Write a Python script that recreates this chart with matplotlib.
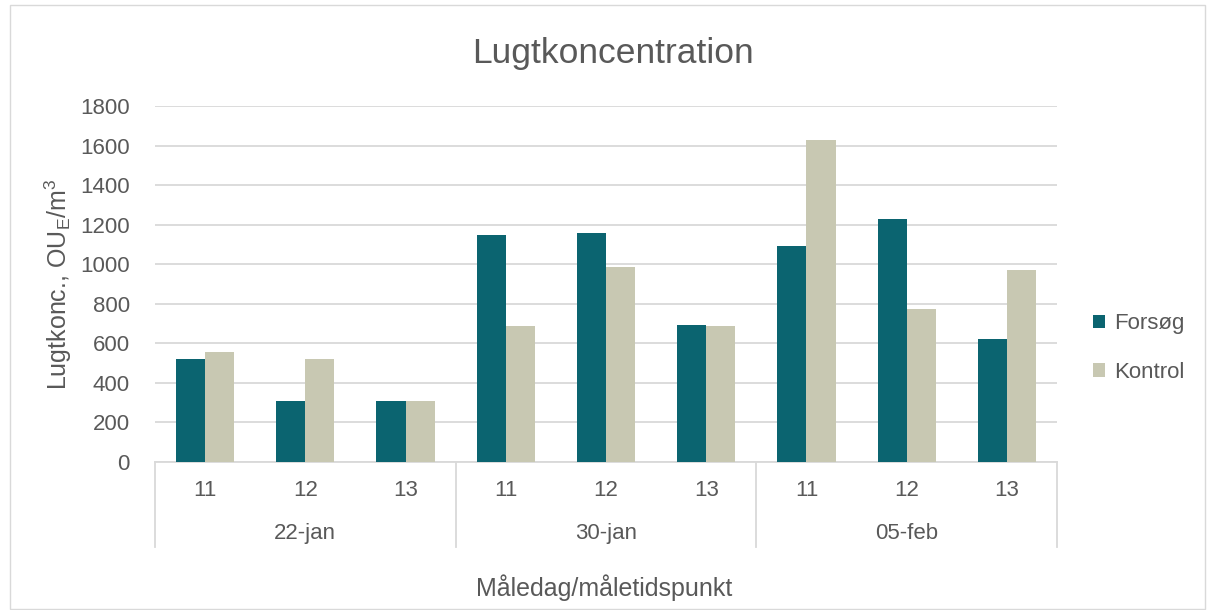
import matplotlib.pyplot as plt
import numpy as np

plt.rcParams['font.family'] = ['Liberation Sans', 'DejaVu Sans']

hours = ['11', '12', '13', '11', '12', '13', '11', '12', '13']
days = ['22-jan', '30-jan', '05-feb']
forsoeg = [520, 310, 310, 1150, 1160, 695, 1090, 1230, 620]
kontrol = [555, 520, 310, 690, 985, 690, 1630, 775, 970]

c_f = '#0b6470'
c_k = '#c8c8b2'
txt = '#595959'
W, H = 1212, 610

fig = plt.figure(figsize=(12.12, 6.10), dpi=100)
ax = fig.add_axes([155 / W, 1 - 462 / H, (1057 - 155) / W, (462 - 106) / H])

x = np.arange(len(hours))
w = 0.29
ax.bar(x - w / 2, forsoeg, w, color=c_f, label='Forsøg', zorder=3)
ax.bar(x + w / 2, kontrol, w, color=c_k, label='Kontrol', zorder=3)

ax.set_xlim(-0.5, len(hours) - 0.5)
ax.set_ylim(0, 1800)
ax.set_yticks(range(0, 1801, 200))
ax.yaxis.grid(True, color='#d9d9d9', linewidth=1.3, zorder=0)
ax.tick_params(axis='y', length=0, labelsize=16, labelcolor=txt, pad=18)
ax.set_xticks([])
for s in ['top', 'right', 'left']:
    ax.spines[s].set_visible(False)
ax.spines['bottom'].set_color('#d9d9d9')
ax.spines['bottom'].set_linewidth(1.3)

# hour labels and grouped day labels
for i, h in enumerate(hours):
    ax.text(i, -0.08, h, transform=ax.get_xaxis_transform(), ha='center', va='center',
            fontsize=16, color=txt)
for j, d in enumerate(days):
    ax.text(3 * j + 1, -0.20, d, transform=ax.get_xaxis_transform(), ha='center', va='center',
            fontsize=16, color=txt)
for b in [-0.5, 2.5, 5.5, 8.5]:
    ax.plot([b, b], [0, -0.24], transform=ax.get_xaxis_transform(), color='#d9d9d9',
            linewidth=1.3, clip_on=False)

ax.set_ylabel('Lugtkonc., OU$_\\mathregular{E}$/m$^\\mathregular{3}$', fontsize=18,
              color=txt)
ax.yaxis.set_label_coords(-0.09, 0.5)
fig.text(604 / W, 1 - 588 / H, 'Måledag/måletidspunkt', fontsize=18, color=txt,
         ha='center', va='center')
fig.text(613 / W, 1 - 53 / H, 'Lugtkoncentration', fontsize=25.5, color=txt,
         ha='center', va='center')

ax.legend(loc='center left', bbox_to_anchor=(1.04, 0.32), frameon=False, fontsize=16,
          labelcolor=txt, handlelength=0.55, handleheight=0.55, labelspacing=1.25,
          handletextpad=0.4, borderpad=0, borderaxespad=0)

fig.patches.append(plt.Rectangle((10 / W, 0.002), 1195 / W, 0.99, transform=fig.transFigure,
                                 fill=False, edgecolor='#d9d9d9', linewidth=1))

fig.savefig('out.png', dpi=100)
